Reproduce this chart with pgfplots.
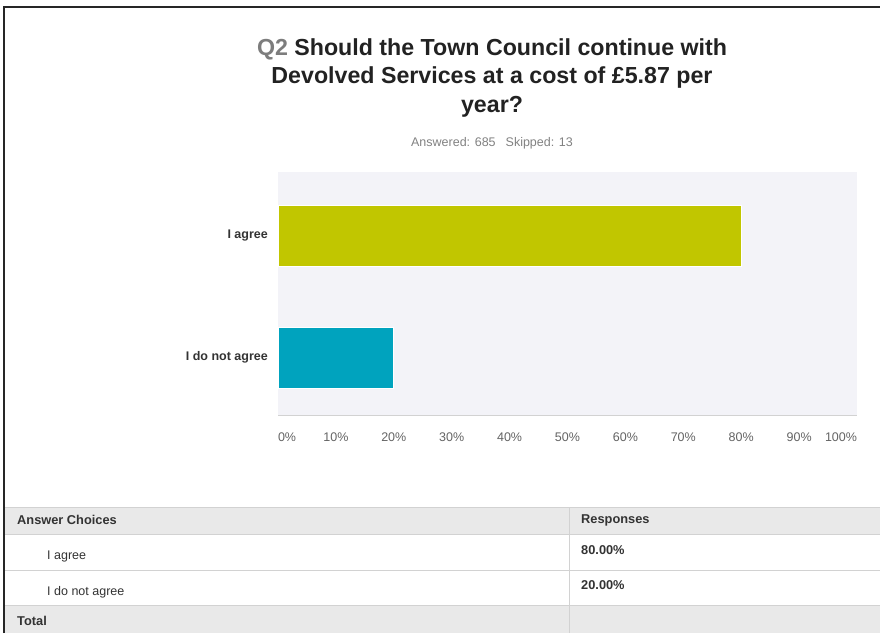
\documentclass[border=0pt]{standalone}
\usepackage{fontspec}
\setmainfont{Liberation Sans}
\usepackage{pgfplots}
\pgfplotsset{compat=1.18}

\definecolor{agreec}{RGB}{193,198,0}
\definecolor{disagreec}{RGB}{0,163,190}
\definecolor{plotbg}{RGB}{243,243,248}
\definecolor{titlec}{RGB}{34,34,34}
\definecolor{qc}{RGB}{125,125,125}
\definecolor{subc}{RGB}{130,130,130}
\definecolor{tickc}{RGB}{100,100,100}
\definecolor{rulec}{RGB}{210,210,210}
\definecolor{bandc}{RGB}{233,233,233}
\definecolor{textc}{RGB}{51,51,51}

\begin{document}
\begin{tikzpicture}[x=1pt,y=1pt]
\useasboundingbox (0,0) rectangle (880,-633);
\fill[white] (0,0) rectangle (880,-633);

% title
\begin{scope}[every node/.style={anchor=base,inner sep=0pt,text=titlec,
    font=\fontsize{23.2}{28.5}\selectfont\bfseries}]
  \node at (492,-55) {{\color{qc}Q2} Should the Town Council continue with};
  \node at (492,-83.5) {Devolved Services at a cost of £5.87 per};
  \node at (492,-112) {year?};
\end{scope}
\node[text=subc,font=\fontsize{12.5}{14}\selectfont] at (492,-143)
  {Answered: 685\hspace{10pt}Skipped: 13};

\begin{axis}[
    at={(278pt,-415pt)}, anchor=south west,
    scale only axis, width=579pt, height=243pt,
    xbar=0pt, bar width=61pt, bar shift=0pt,
    xmin=0, xmax=100,
    ymin=-0.471, ymax=1.52,
    axis background/.style={fill=plotbg},
    axis x line=bottom, axis y line=left,
    x axis line style={draw=rulec,line width=1pt,-},
    y axis line style={draw=none},
    major tick length=0pt,
    xtick={0,10,...,100},
    xticklabels={\makebox[0pt][l]{0\%},10\%,20\%,30\%,40\%,50\%,60\%,70\%,80\%,90\%,\makebox[0pt][r]{100\%}},
    xticklabel style={font=\fontsize{12.5}{14}\selectfont,text=tickc,inner sep=0pt,yshift=-18pt},
    ytick={0,1},
    yticklabels={I do not agree,I agree},
    yticklabel style={font=\fontsize{12.5}{14}\selectfont\bfseries,text=textc,inner sep=0pt,xshift=-10pt},
  ]
  \addplot[fill=agreec,draw=white,line width=0.8pt] coordinates {(80,1)};
  \addplot[fill=disagreec,draw=white,line width=0.8pt] coordinates {(20,0)};
\end{axis}

% summary table
\fill[bandc] (5,-507) rectangle (880,-534);
\fill[bandc] (5,-605) rectangle (880,-633);
\draw[rulec,line width=1pt] (5,-507) -- (880,-507);
\draw[rulec,line width=1pt] (5,-534) -- (880,-534);
\draw[rulec,line width=1pt] (5,-570) -- (880,-570);
\draw[rulec,line width=1pt] (5,-605) -- (880,-605);
\draw[rulec,line width=1pt] (569,-507) -- (569,-633);
\begin{scope}[every node/.style={anchor=west,inner sep=0pt,text=textc,
    font=\fontsize{12.5}{14}\selectfont}]
  \node[font=\fontsize{12.8}{14}\selectfont\bfseries] at (17,-520) {Answer Choices};
  \node[font=\fontsize{12.8}{14}\selectfont\bfseries] at (581,-520) {Responses};
  \node at (47,-556) {I agree};
  \node[font=\fontsize{12.8}{14}\selectfont\bfseries] at (581,-550) {80.00\%};
  \node at (47,-592) {I do not agree};
  \node[font=\fontsize{12.8}{14}\selectfont\bfseries] at (581,-585) {20.00\%};
  \node[font=\fontsize{12.8}{14}\selectfont\bfseries] at (17,-621) {Total};
\end{scope}

% frame
\draw[black!85,line width=2.2pt] (4,-633) -- (4,-7) -- (880,-7);
\end{tikzpicture}
\end{document}
